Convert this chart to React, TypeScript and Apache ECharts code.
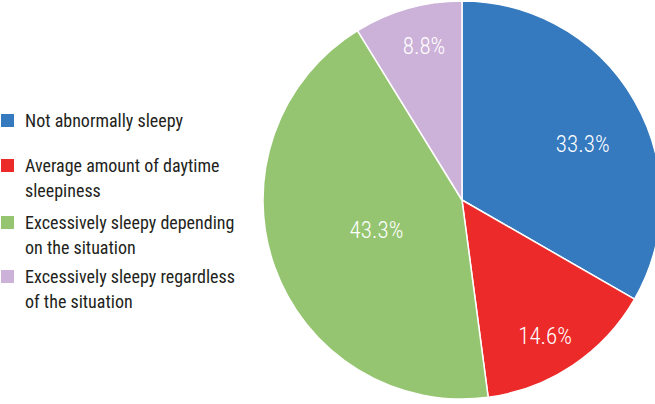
import React, { useEffect, useRef } from "react";
import * as echarts from "echarts";

const categories = [
  "Not abnormally sleepy",
  "Average amount of daytime\nsleepiness",
  "Excessively sleepy depending\non the situation",
  "Excessively sleepy regardless\nof the situation",
];
const values = [33.3, 14.6, 43.3, 8.8];
const colors = ["#3579BF", "#EC2A29", "#95C571", "#CCB1D8"];
// label nudges (px) from the default inside position
const labelOffsets = [
  [32, -4],
  [26, 51],
  [11, -4],
  [-10, -55],
];
const legendTops = [108, 153, 210, 264];

const FONT = "'Roboto Condensed', 'Liberation Sans', Arial, sans-serif";
const SQUARE_ONLY = "path://M0,0L13,0L13,13L0,13Z";
const SQUARE_TOP = "path://M0,0L13,0L13,13L0,13ZM0,38L0.01,38L0,37.99Z";

export default function App() {
  const ref = useRef<HTMLDivElement>(null);
  useEffect(() => {
    if (!ref.current) return;
    const chart = echarts.init(ref.current, undefined, { renderer: "svg" });
    chart.setOption({
      animation: false,
      backgroundColor: "#ffffff",
      legend: categories.map((name, i) => {
        const multi = name.includes("\n");
        return {
          data: [name],
          orient: "vertical",
          left: 1,
          top: legendTops[i],
          padding: 0,
          itemWidth: 13,
          itemHeight: multi ? 38 : 13,
          icon: multi ? SQUARE_TOP : SQUARE_ONLY,
          selectedMode: false,
          itemStyle: { borderWidth: 0 },
          textStyle: {
            fontFamily: FONT,
            fontSize: 18,
            color: "#231F20",
            lineHeight: 25,
            padding: [0, 0, 0, 6],
          },
        };
      }),
      series: [
        {
          type: "pie",
          center: [462, 200],
          radius: [0, 199],
          startAngle: 90,
          clockwise: true,
          silent: true,
          itemStyle: { borderColor: "#ffffff", borderWidth: 1.5 },
          label: {
            show: true,
            position: "inside",
            color: "#ffffff",
            fontFamily: FONT,
            fontSize: 23,
            fontWeight: 300,
            formatter: (p: any) => Number(p.value).toFixed(1) + "%",
          },
          labelLine: { show: false },
          labelLayout: (p: any) => {
            const o = labelOffsets[p.dataIndex];
            return { dx: o[0], dy: o[1] };
          },
          data: categories.map((name, i) => ({
            name,
            value: values[i],
            itemStyle: { color: colors[i] },
          })),
        },
      ],
    });
    return () => chart.dispose();
  }, []);
  return <div ref={ref} style={{ width: 655, height: 404, position: "absolute", left: 0, top: 0 }} />;
}
